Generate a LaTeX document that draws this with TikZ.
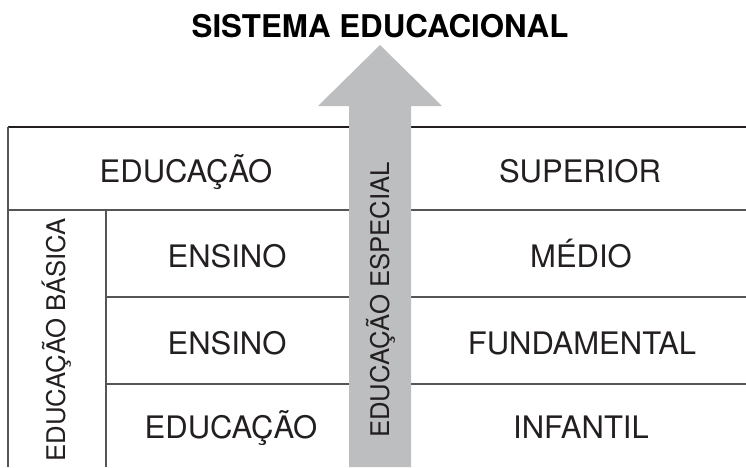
\documentclass[tikz,border=0pt]{standalone}
\usepackage{fontspec}
\setmainfont{TeX Gyre Heros}
\definecolor{arrowgray}{HTML}{BDBEC0}
\definecolor{ink}{HTML}{231F20}
\definecolor{rule}{HTML}{555555}
\begin{document}
\begin{tikzpicture}[x=1pt,y=-1pt,
  toprule/.style={draw=ink,line width=1.4pt},
  cellrule/.style={draw=rule,line width=1.2pt},
  lbl/.style={anchor=base,inner sep=0pt,text=ink,font=\fontsize{31}{32}\selectfont},
  vlbl/.style={anchor=base,inner sep=0pt,text=ink,rotate=90,font=\fontsize{25.7}{26}\selectfont},
  ttl/.style={anchor=base,inner sep=0pt,text=black,font=\fontsize{31.3}{32}\selectfont\bfseries}]
\useasboundingbox (0,0) rectangle (746,467);
% table rules
\draw[toprule] (8,127) -- (746,127);
\draw[cellrule] (8,127) -- (8,467);
\draw[cellrule] (8,210) -- (746,210);
\draw[cellrule] (106,210) -- (106,467);
\draw[cellrule] (106,297) -- (746,297);
\draw[cellrule] (106,384) -- (746,384);
% arrow
\fill[arrowgray] (349,467) -- (349,106) -- (318,106) -- (380,45) -- (442,106) -- (411,106) -- (411,467) -- cycle;
% title
\node[ttl] (title) at (380,37) {SISTEMA EDUCACIONAL};
% labels
\node[lbl] (eduS) at (186,182) {EDUCAÇÃO};
\node[lbl] (sup) at (580,182) {SUPERIOR};
\node[lbl] (ensM) at (227,267) {ENSINO};
\node[lbl] (med) at (581,267) {MÉDIO};
\node[lbl] (ensF) at (227,354) {ENSINO};
\node[lbl] (fund) at (582,354) {FUNDAMENTAL};
\node[lbl] (eduI) at (231,438) {EDUCAÇÃO};
\node[lbl] (inf) at (581,438) {INFANTIL};
\node[vlbl] (basica) at (65,340) {EDUCAÇÃO BÁSICA};
\node[vlbl] (especial) at (389,300) {EDUCAÇÃO ESPECIAL};
\end{tikzpicture}
\end{document}
